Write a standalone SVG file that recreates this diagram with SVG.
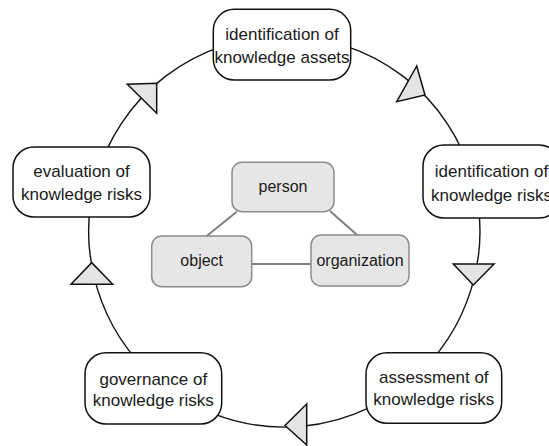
<svg xmlns="http://www.w3.org/2000/svg" width="549" height="446" viewBox="0 0 549 446">
<style>
.node rect{fill:#ffffff;stroke:#111111;stroke-width:1.5}
.node text{font-family:"Liberation Sans",Arial,sans-serif;font-size:17px;fill:#1a1a1a;text-anchor:middle}
.inner rect{fill:#e6e6e6;stroke:#8c8c8c;stroke-width:1.5}
.inner text{font-family:"Liberation Sans",Arial,sans-serif;font-size:16px;fill:#1a1a1a;text-anchor:middle}
.arc{fill:none;stroke:#111111;stroke-width:1.4}
.head{fill:#e4e4e4;stroke:#111111;stroke-width:1.5;stroke-linejoin:miter}
.link{stroke:#7f7f7f;stroke-width:2}
</style>
<rect width="549" height="446" fill="#ffffff"/>
<g id="connectors">
<path class="arc" d="M284.3,36.1 A195.5,195.5 0 0 1 472.9,180"/>
<path class="arc" d="M472.9,180 A195.5,195.5 0 0 1 411.6,380"/>
<path class="arc" d="M411.6,380 A195.5,195.5 0 0 1 157,380"/>
<path class="arc" d="M157,380 A195.5,195.5 0 0 1 95.7,180"/>
<path class="arc" d="M95.7,180 A195.5,195.5 0 0 1 284.3,36.1"/>
<polygon class="head" points="416.7,66 396.7,101.7 425,95"/>
<polygon class="head" points="453.3,264 494,264 473.3,285"/>
<polygon class="head" points="306.7,404 306.7,445 285,425.5"/>
<polygon class="head" points="71,284.3 112.7,284.3 91.7,262.7"/>
<polygon class="head" points="127.3,84.3 156.7,113.3 156.7,83.3"/>
<line class="link" x1="206.7" y1="236" x2="236.7" y2="211.7"/>
<line class="link" x1="330" y1="211" x2="358.3" y2="236"/>
<line class="link" x1="251.7" y1="264" x2="311" y2="264"/>
</g>
<g id="identification-assets" class="node">
<rect x="213.3" y="9.3" width="137.4" height="70.7" rx="21"/>
<text x="282" y="39.5">identification of</text>
<text x="282" y="63">knowledge assets</text>
</g>
<g id="identification-risks" class="node">
<rect x="423" y="145" width="137" height="73" rx="21"/>
<text x="491.5" y="177">identification of</text>
<text x="491.5" y="200.5">knowledge risks</text>
</g>
<g id="assessment" class="node">
<rect x="366" y="352.7" width="135.7" height="70.6" rx="21"/>
<text x="433.8" y="382.7">assessment of</text>
<text x="433.8" y="405">knowledge risks</text>
</g>
<g id="governance" class="node">
<rect x="85" y="352.7" width="136.7" height="71.3" rx="21"/>
<text x="153.3" y="385">governance of</text>
<text x="153.3" y="406">knowledge risks</text>
</g>
<g id="evaluation" class="node">
<rect x="13" y="147" width="137" height="70" rx="21"/>
<text x="81.5" y="177">evaluation of</text>
<text x="81.5" y="200">knowledge risks</text>
</g>
<g id="person" class="inner">
<rect x="232" y="162.3" width="102" height="49.4" rx="10"/>
<text x="283" y="191.5">person</text>
</g>
<g id="object" class="inner">
<rect x="151.7" y="236" width="100" height="50.7" rx="10"/>
<text x="201.7" y="265.5">object</text>
</g>
<g id="organization" class="inner">
<rect x="311" y="235" width="98" height="51" rx="10"/>
<text x="360" y="265.5">organization</text>
</g>
</svg>
